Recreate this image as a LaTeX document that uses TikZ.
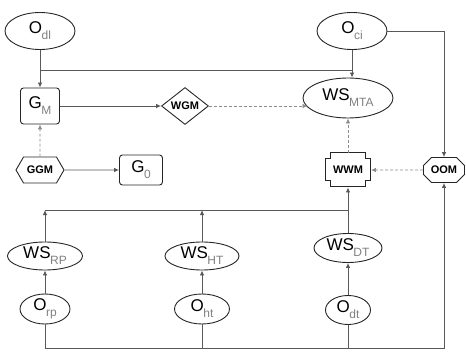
\documentclass[tikz,border=0pt]{standalone}
\usepackage{fontspec}
\setmainfont{Liberation Sans}
\usetikzlibrary{shapes,arrows,arrows.meta,positioning}
\newcommand{\lo}[1]{\kern-0.5pt\raisebox{-6pt}{\fontsize{12}{12}\selectfont\color{black!50}#1}}
\tikzset{%
obsnode/.style={ellipse, draw=black!85, line width=0.9pt, inner sep=0pt, minimum width=70pt, minimum height=37pt, font=\fontsize{17}{17}\selectfont},
wsnode/.style={obsnode, minimum width=74pt, minimum height=28pt},
gnode/.style={rectangle, rounded corners=3pt, draw=black!85, line width=0.9pt, inner sep=0pt, font=\fontsize{17}{17}\selectfont},
opnode/.style={draw=black!85, line width=0.9pt, inner sep=0pt, font=\fontsize{11}{11}\selectfont\bfseries},
wire/.style={draw=black!65, line width=0.8pt, ->, >={Latex[length=5pt,width=4.5pt]}},
dwire/.style={wire, draw=black!45, dash pattern=on 3pt off 2pt}
}
\begin{document}
\begin{tikzpicture}[x=1pt, y=1pt]
			\useasboundingbox (0,0) rectangle (466,354);
			% upper part
			\node[obsnode] (odl) at (40,323) {O\lo{dl}};
			\node[gnode, minimum width=39pt, minimum height=36pt, node distance=75pt] (gm) [below of=odl] {G\lo{M}};
			\node[opnode, signal, signal to=west and east, signal pointer angle=120, minimum width=48pt, minimum height=26pt, node distance=64pt] (ggm) [below of=gm] {GGM};
			\node[gnode, minimum width=43pt, minimum height=30pt, node distance=101pt] (gzero) [right of=ggm] {G\lo{0}};
			\node[opnode, diamond, aspect=1.27, minimum width=47pt, minimum height=37pt, node distance=145pt] (wgm) [right of=gm] {WGM};
			\node[obsnode, node distance=312pt] (oci) [right of=odl] {O\lo{ci}};
			\node[obsnode, minimum width=90pt, minimum height=40pt, node distance=67pt, xshift=-4pt] (wsmta) [below of=oci] {WS\lo{MTA}};
			\node[opnode, draw=none, minimum width=45pt, minimum height=34pt, node distance=72pt] (wwm) [below of=wsmta] {WWM};
			\draw[opnode] (wwm.north) ++(-17.5,0) -- ++(35,0) -- ++(0,-6) -- ++(5,0) -- ++(0,-22) -- ++(-5,0) -- ++(0,-6)
				-- ++(-35,0) -- ++(0,6) -- ++(-5,0) -- ++(0,22) -- ++(5,0) -- cycle;
			\node[opnode, chamfered rectangle, chamfered rectangle xsep=4pt, chamfered rectangle ysep=4pt, minimum width=41pt, minimum height=25pt, node distance=96pt] (oom) [right of=wwm] {OOM};
			% lower part
			\node[wsnode, minimum width=68pt, minimum height=29pt, node distance=78pt] (wsdt) [below of=wwm] {WS\lo{DT}};
			\node[wsnode, minimum width=75pt, node distance=303pt, yshift=-8pt] (wsrp) [left of=wsdt] {WS\lo{RP}};
			\node[wsnode, node distance=157pt] (wsht) [right of=wsrp] {WS\lo{HT}};
			\node[obsnode, minimum width=45pt, minimum height=29pt, node distance=62pt] (odt) [below of=wsdt] {O\lo{dt}};
			\node[obsnode, minimum width=50pt, minimum height=30pt, node distance=53pt] (orp) [below of=wsrp] {O\lo{rp}};
			\node[obsnode, minimum width=55pt, minimum height=30pt, node distance=53pt] (oht) [below of=wsht] {O\lo{ht}};
			\coordinate[below of=odl, node distance=39pt] (jdl);
			\coordinate[below of=wwm, node distance=40pt] (jdt);
			\coordinate[below of=orp, node distance=39pt] (jrp);
			% connectors
			\draw[wire] (odl) -- (gm);
			\draw[wire, -] (jdl) -- (jdl -| oci);
			\draw[wire] (oci) -- (oci |- wsmta.north);
			\draw[wire] (oci.east) -| (oom);
			\draw[wire] (gm) -- (wgm);
			\draw[dwire] (wgm) -- (wgm -| wsmta.193);
			\draw[dwire] (ggm) -- (gm);
			\draw[wire] (ggm) -- (gzero);
			\draw[dwire] (wwm) -- (wsmta);
			\draw[dwire] (oom) -- (wwm);
			\draw[wire] (wsdt) -- (wwm);
			\draw[wire, -] (jdt) -- (jdt -| wsrp);
			\draw[wire] (wsrp) -- (wsrp |- jdt);
			\draw[wire] (wsht) -- (wsht |- jdt);
			\draw[wire] (orp) -- (wsrp);
			\draw[wire] (oht) -- (wsht);
			\draw[wire] (odt) -- (wsdt);
			\draw[wire] (orp) -- (jrp) -| (oom);
			\draw[wire, -] (oht) -- (oht |- jrp);
			\draw[wire, -] (odt) -- (odt |- jrp);
		\end{tikzpicture}
\end{document}
